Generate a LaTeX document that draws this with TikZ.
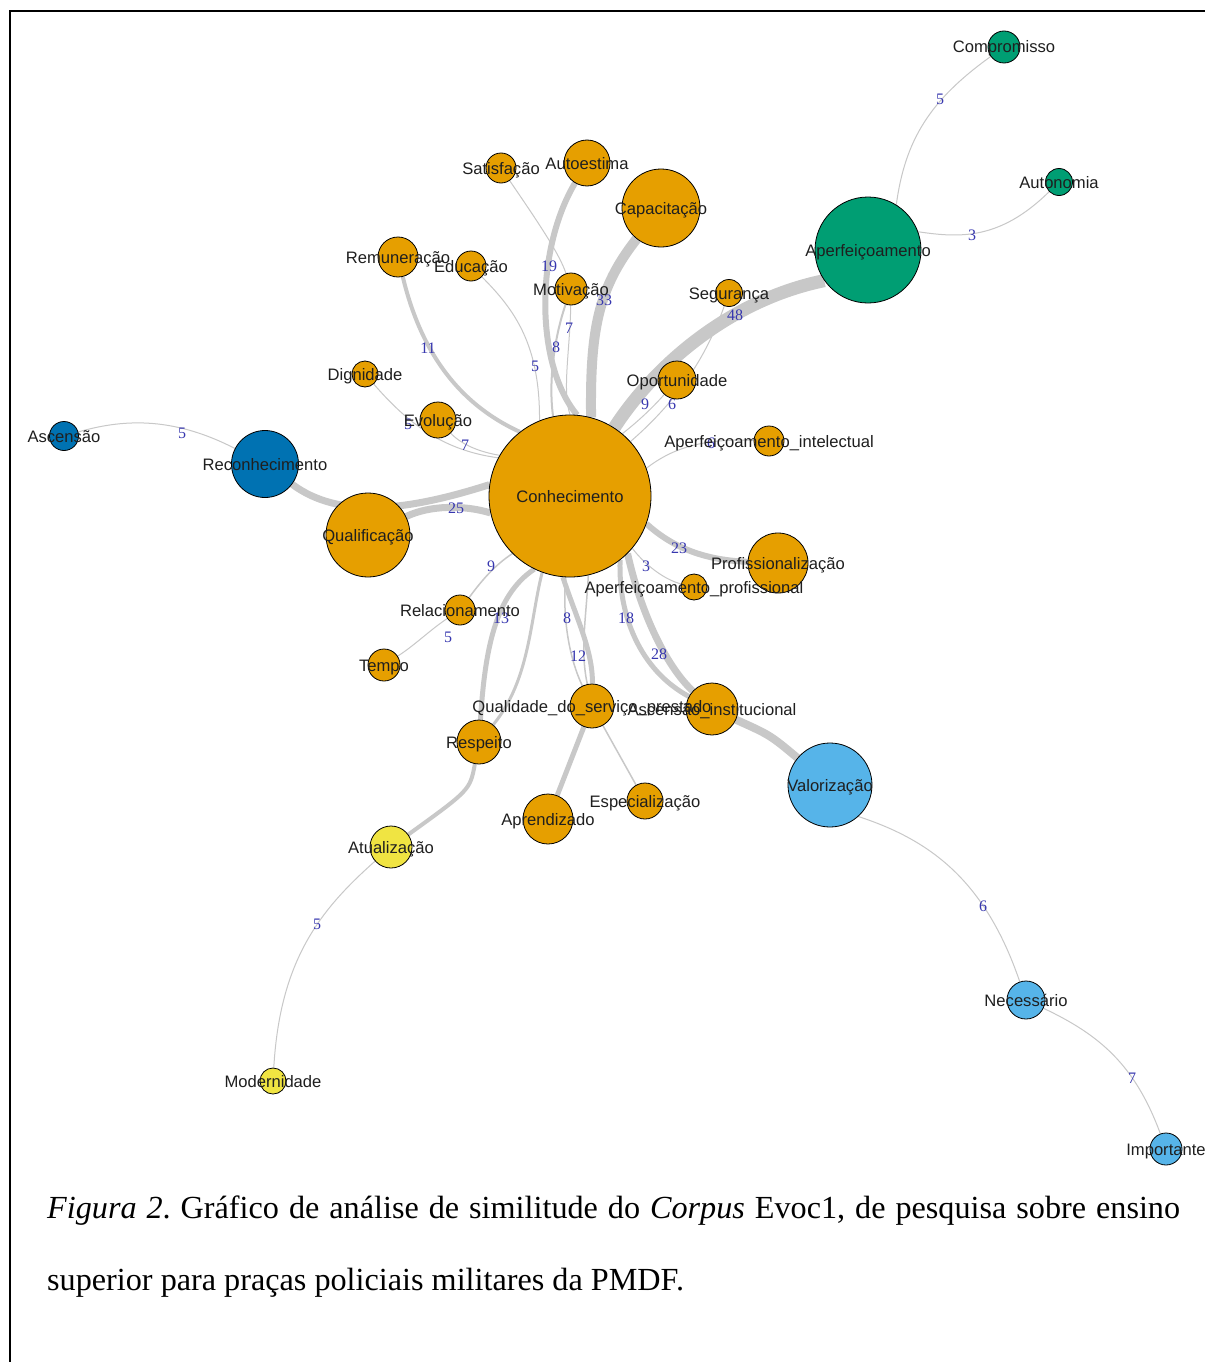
\documentclass[tikz,border=0pt]{standalone}
\usepackage{fontspec}
\setmainfont{Liberation Serif}
\newfontfamily\lblsans{Liberation Sans}
\usetikzlibrary{backgrounds}
\definecolor{orng}{RGB}{230,159,0}
\definecolor{grn}{RGB}{0,158,115}
\definecolor{dblu}{RGB}{0,114,178}
\definecolor{lblu}{RGB}{86,180,233}
\definecolor{yel}{RGB}{240,228,66}
\definecolor{edgec}{RGB}{200,200,200}
\definecolor{wcol}{RGB}{55,55,175}
\newcommand\lblfont{\lblsans\fontsize{16.6}{19}\selectfont}
\newcommand\wlfont{\rmfamily\fontsize{16}{18}\selectfont}
\newcommand\capfont{\rmfamily\fontsize{32.2}{36}\selectfont\frenchspacing}
\begin{document}
\begin{tikzpicture}[x=1pt,y=-1pt,
  vtx/.style={circle, draw=black, line width=0.8pt, inner sep=0pt, minimum size=#1},
  lbl/.style={font=\lblfont, text=black!88, inner sep=0pt, anchor=base, yshift=-6pt},
  wl/.style={font=\wlfont, text=wcol, inner sep=0pt},
  ed/.style={draw=edgec, line width=#1}]
\useasboundingbox (0,0) rectangle (1205,1362);
% ---------- vertices ----------
\node[vtx=162pt, fill=orng] (con) at (570,496) {};
\node[vtx=78pt, fill=orng] (cap) at (661,208) {};
\node[vtx=46pt, fill=orng] (aut) at (587,163) {};
\node[vtx=30pt, fill=orng] (sat) at (501,168) {};
\node[vtx=40pt, fill=orng] (rem) at (398,257) {};
\node[vtx=30pt, fill=orng] (edu) at (471,266) {};
\node[vtx=32pt, fill=orng] (mot) at (571,289) {};
\node[vtx=26pt, fill=orng] (dig) at (365,374) {};
\node[vtx=36pt, fill=orng] (evo) at (438,420) {};
\node[vtx=38pt, fill=orng] (opo) at (677,380) {};
\node[vtx=27pt, fill=orng] (seg) at (729,293) {};
\node[vtx=30pt, fill=orng] (api) at (769,441) {};
\node[vtx=106pt, fill=grn] (apf) at (868,250) {};
\node[vtx=32pt, fill=grn] (com) at (1004,47) {};
\node[vtx=27pt, fill=grn] (aun) at (1059,182) {};
\node[vtx=29pt, fill=dblu] (asc) at (64,436) {};
\node[vtx=67pt, fill=dblu] (rec) at (265,464) {};
\node[vtx=84pt, fill=orng] (qua) at (368,535) {};
\node[vtx=60pt, fill=orng] (pro) at (778,563) {};
\node[vtx=26pt, fill=orng] (apo) at (694,587) {};
\node[vtx=30pt, fill=orng] (rel) at (460,610) {};
\node[vtx=32pt, fill=orng] (tem) at (384,665) {};
\node[vtx=44pt, fill=orng] (qsp) at (592,706) {};
\node[vtx=52pt, fill=orng] (asi) at (712,709) {};
\node[vtx=44pt, fill=orng] (res) at (479,742) {};
\node[vtx=50pt, fill=orng] (apz) at (548,819) {};
\node[vtx=36pt, fill=orng] (esp) at (645,801) {};
\node[vtx=84pt, fill=lblu] (val) at (830,785) {};
\node[vtx=42pt, fill=yel] (atu) at (391,847) {};
\node[vtx=26pt, fill=yel] (mod) at (273,1081) {};
\node[vtx=38pt, fill=lblu] (nec) at (1026,1000) {};
\node[vtx=32pt, fill=lblu] (imp) at (1166,1149) {};
% ---------- edges ----------
\begin{pgfonlayer}{background}
\fill[white] (0,0) rectangle (1205,1362);
\draw[ed=13pt] (con) .. controls (655,365) and (730,300) .. (apf.215);
\draw[ed=10pt] (con.75) .. controls (590,330) and (598,288) .. (cap);
\draw[ed=6pt] (aut) .. controls (535,250) and (535,365) .. (con.85);
\draw[ed=1pt] (sat) .. controls (540,225) and (560,255) .. (mot);
\draw[ed=1pt] (mot) .. controls (570,350) and (562,390) .. (con.90);
\draw[ed=2pt] (mot) .. controls (555,335) and (548,380) .. (con.102);
\draw[ed=4pt] (rem) .. controls (418,340) and (450,400) .. (con.128);
\draw[ed=1pt] (edu) .. controls (515,310) and (540,345) .. (con.112);
\draw[ed=1pt] (dig) .. controls (405,420) and (440,450) .. (con.152);
\draw[ed=1pt] (evo) .. controls (462,445) and (480,452) .. (con.150);
\draw[ed=7pt] (rec) .. controls (340,520) and (410,510) .. (con.172);
\draw[ed=7pt] (qua) .. controls (430,505) and (465,505) .. (con.192);
\draw[ed=1pt] (asc) .. controls (120,420) and (170,415) .. (rec);
\draw[ed=1.5pt] (con.225) .. controls (495,565) and (482,580) .. (rel);
\draw[ed=1pt] (rel) .. controls (430,630) and (415,645) .. (tem);
\draw[ed=5pt] (con.244) .. controls (495,595) and (485,650) .. (res);
\draw[ed=4pt] (res) .. controls (470,790) .. (atu);
\draw[ed=3pt] (con.250) .. controls (530,620) and (530,680) .. (res);
\draw[ed=5pt] (con.265) .. controls (575,615) and (593,650) .. (qsp);
\draw[ed=5pt] (qsp) -- (apz);
\draw[ed=1.5pt] (con.283) .. controls (586,620) and (580,650) .. (qsp);
\draw[ed=1.5pt] (con.267) .. controls (562,620) and (570,660) .. (qsp);
\draw[ed=1.5pt] (qsp) -- (esp);
\draw[ed=5pt] (con.308) .. controls (618,615) and (640,670) .. (asi);
\draw[ed=7pt] (con.315) .. controls (640,610) and (665,665) .. (asi);
\draw[ed=8pt] (asi) .. controls (770,735) .. (val);
\draw[ed=6pt] (con.340) .. controls (670,545) and (700,560) .. (pro);
\draw[ed=1pt] (con.320) .. controls (645,565) and (665,580) .. (apo);
\draw[ed=1pt] (con.20) .. controls (670,450) and (700,438) .. (api);
\draw[ed=1pt] (seg) .. controls (712,340) and (690,390) .. (con.42);
\draw[ed=1pt] (con.50) .. controls (640,420) and (655,405) .. (opo);
\draw[ed=1pt] (apf.58) .. controls (905,140) and (930,100) .. (com);
\draw[ed=1pt] (apf.20) .. controls (960,238) and (1000,240) .. (aun);
\draw[ed=1pt] (val.-48) .. controls (930,840) and (985,880) .. (nec);
\draw[ed=1pt] (nec) .. controls (1100,1035) and (1135,1065) .. (imp);
\draw[ed=1pt] (atu) .. controls (320,910) and (280,960) .. (mod);
% edge weights
\node[wl] (w1) at (735,315) {48};
\node[wl] (w2) at (604,300) {33};
\node[wl] (w3) at (549,266) {19};
\node[wl] (w4) at (569,328) {7};
\node[wl] (w5) at (556,347) {8};
\node[wl] (w6) at (428,348) {11};
\node[wl] (w7) at (535,366) {5};
\node[wl] (w8) at (408,424) {5};
\node[wl] (w9) at (465,445) {7};
\node[wl] (w10) at (456,508) {25};
\node[wl] (w11) at (182,433) {5};
\node[wl] (w12) at (491,566) {9};
\node[wl] (w13) at (448,637) {5};
\node[wl] (w14) at (501,618) {13};
\node[wl] (w15) at (567,618) {8};
\node[wl] (w16) at (578,656) {12};
\node[wl] (w17) at (626,618) {18};
\node[wl] (w18) at (659,654) {28};
\node[wl] (w19) at (679,548) {23};
\node[wl] (w20) at (646,566) {3};
\node[wl] (w21) at (711,443) {6};
\node[wl] (w22) at (672,404) {6};
\node[wl] (w23) at (645,404) {9};
\node[wl] (w24) at (940,99) {5};
\node[wl] (w25) at (972,235) {3};
\node[wl] (w26) at (983,906) {6};
\node[wl] (w27) at (1132,1078) {7};
\node[wl] (w28) at (317,924) {5};
\end{pgfonlayer}
% ---------- vertex labels ----------
\node[lbl] (t-con) at (con) {Conhecimento};
\node[lbl] (t-cap) at (cap) {Capacitação};
\node[lbl] (t-aut) at (aut) {Autoestima};
\node[lbl] (t-sat) at (sat) {Satisfação};
\node[lbl] (t-rem) at (rem) {Remuneração};
\node[lbl] (t-edu) at (edu) {Educação};
\node[lbl] (t-mot) at (mot) {Motivação};
\node[lbl] (t-dig) at (dig) {Dignidade};
\node[lbl] (t-evo) at (evo) {Evolução};
\node[lbl] (t-opo) at (opo) {Oportunidade};
\node[lbl] (t-seg) at (seg) {Segurança};
\node[lbl] (t-api) at (api) {Aperfeiçoamento\_intelectual};
\node[lbl] (t-apf) at (apf) {Aperfeiçoamento};
\node[lbl] (t-com) at (com) {Compromisso};
\node[lbl] (t-aun) at (aun) {Autonomia};
\node[lbl] (t-asc) at (asc) {Ascensão};
\node[lbl] (t-rec) at (rec) {Reconhecimento};
\node[lbl] (t-qua) at (qua) {Qualificação};
\node[lbl] (t-pro) at (pro) {Profissionalização};
\node[lbl] (t-apo) at (apo) {Aperfeiçoamento\_profissional};
\node[lbl] (t-rel) at (rel) {Relacionamento};
\node[lbl] (t-tem) at (tem) {Tempo};
\node[lbl] (t-qsp) at (qsp) {Qualidade\_do\_serviço\_prestado};
\node[lbl] (t-asi) at (asi) {Ascensão\_institucional};
\node[lbl] (t-res) at (res) {Respeito};
\node[lbl] (t-apz) at (apz) {Aprendizado};
\node[lbl] (t-esp) at (esp) {Especialização};
\node[lbl] (t-val) at (val) {Valorização};
\node[lbl] (t-atu) at (atu) {Atualização};
\node[lbl] (t-mod) at (mod) {Modernidade};
\node[lbl] (t-nec) at (nec) {Necessário};
\node[lbl] (t-imp) at (imp) {Importante};
% ---------- frame and caption ----------
\draw[line width=2pt, black] (10,1362) -- (10,11) -- (1205,11);
\node[anchor=base west, inner sep=0pt] (cap1) at (47,1218)
  {\capfont\makebox[1133pt][s]{\textit{Figura 2}. Gráfico de análise de similitude do \textit{Corpus} Evoc1, de pesquisa sobre ensino}};
\node[anchor=base west, inner sep=0pt] (cap2) at (47,1290)
  {\capfont superior para praças policiais militares da PMDF.};
\end{tikzpicture}
\end{document}
